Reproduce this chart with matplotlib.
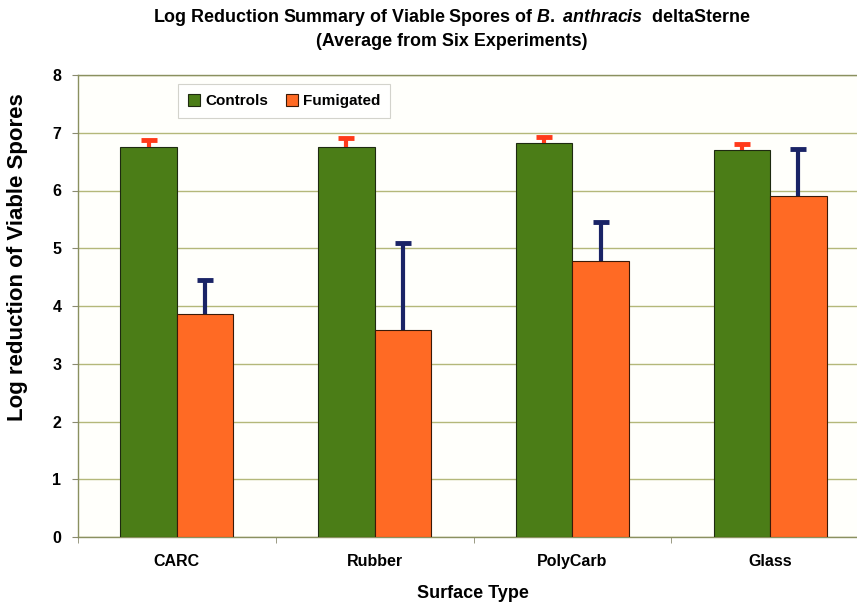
import matplotlib.pyplot as plt
import numpy as np

plt.rcParams['font.family'] = ['Liberation Sans', 'DejaVu Sans']
plt.rcParams['font.weight'] = 'bold'
plt.rcParams['mathtext.fontset'] = 'custom'
plt.rcParams['mathtext.rm'] = 'Liberation Sans:bold'
plt.rcParams['mathtext.it'] = 'Liberation Sans:italic:bold'
plt.rcParams['mathtext.bf'] = 'Liberation Sans:bold'

# data
surfaces = ['CARC', 'Rubber', 'PolyCarb', 'Glass']
controls = [6.76, 6.76, 6.83, 6.70]
controls_err = [0.11, 0.15, 0.09, 0.11]
fumigated = [3.87, 3.58, 4.78, 5.90]
fumigated_err = [0.58, 1.51, 0.67, 0.81]

green = '#4b7d17'
orange = '#ff6a24'

fig = plt.figure(figsize=(8.57, 6.05), dpi=100)
fig.patch.set_facecolor('white')
# plot area runs past the right edge, like the cropped original
ax = fig.add_axes([78/857, 68/605, 791/857, 462/605])
ax.set_facecolor('#fffffb')

x = np.arange(len(surfaces))
w = 1 / 3.5

ax.bar(x - w/2, controls, w, color=green, edgecolor='#1e2a10', linewidth=0.8,
       label='Controls', zorder=3)
ax.bar(x + w/2, fumigated, w, color=orange, edgecolor='#3a1a08', linewidth=0.8,
       label='Fumigated', zorder=3)


def upper_err(xs, vals, errs, col):
    # stem only upward, single cap on top
    ax.errorbar(xs, vals, yerr=[np.zeros(len(vals)), errs], fmt='none',
                ecolor=col, elinewidth=3, capsize=0, zorder=4)
    tops = np.array(vals) + np.array(errs)
    ax.plot(xs, tops, ls='none', marker='_', ms=11, mew=3.5, color=col, zorder=4)


upper_err(x - w/2, controls, controls_err, '#ff3a1a')
upper_err(x + w/2, fumigated, fumigated_err, '#1a2466')

ax.set_xlim(-0.5, 3.5)
ax.set_ylim(0, 8)
ax.set_yticks(range(9))
ax.yaxis.grid(True, color='#b4b87a', linewidth=1.0, zorder=0)
ax.set_axisbelow(True)

ax.set_xticks(x)
ax.set_xticklabels(surfaces, fontsize=11.5, fontweight='bold')
ax.set_xticks(np.arange(-0.5, 4, 1), minor=True)
ax.tick_params(axis='x', which='major', length=0, pad=12)
ax.tick_params(axis='x', which='minor', length=4, color='#8a8a70')
ax.tick_params(axis='y', length=4, color='#8a8a70', labelsize=11.5, pad=8)
for lab in ax.get_yticklabels():
    lab.set_fontweight('bold')

for s in ['left', 'bottom', 'top']:
    ax.spines[s].set_color('#8a9060')
    ax.spines[s].set_linewidth(1.0)
ax.spines['right'].set_visible(False)

leg = ax.legend(loc='upper left', bbox_to_anchor=(0.117, 0.997), ncol=2,
                frameon=True, fancybox=False, handlelength=0.8,
                handleheight=0.8, handletextpad=0.3, columnspacing=1.2,
                borderpad=0.65, prop={'weight': 'bold', 'size': 11})
leg.get_frame().set_edgecolor('#c8c8c0')
leg.get_frame().set_linewidth(0.8)

fig.text(0.527, 1 - 17/605,
         r'Log Reduction Summary of Viable Spores of $\it{B.}$ $\it{anthracis}$  deltaSterne',
         ha='center', va='center', fontsize=12.9, fontweight='bold')
fig.text(0.527, 1 - 41/605, '(Average from Six Experiments)',
         ha='center', va='center', fontsize=12.9, fontweight='bold')

fig.text(18/857, 1 - 257/605, 'Log reduction of Viable Spores', rotation=90,
         ha='center', va='center', fontsize=16, fontweight='bold')
fig.text(473/857, 1 - 593/605, 'Surface Type', ha='center', va='center',
         fontsize=13, fontweight='bold')

plt.savefig('out.png', dpi=100, facecolor='white')
